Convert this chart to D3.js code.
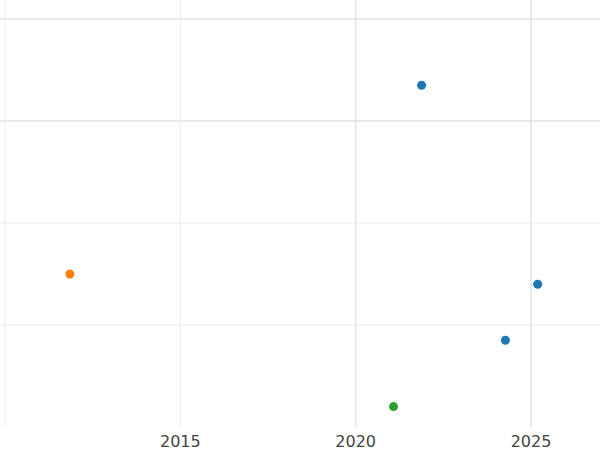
<!DOCTYPE html>
<html><head><meta charset="utf-8">
<script src="https://cdn.jsdelivr.net/npm/d3@7"></script>
<style>body{margin:0;background:#fff}</style>
</head><body><svg id="chart" width="600" height="450"></svg>
<script>
const years = [2021.88, 2011.85, 2025.19, 2024.27, 2021.08];
const values = [3.35, 1.5, 1.4, 0.85, 0.2];
const groups = ["a", "b", "a", "a", "c"];
const xTicks = [2010, 2015, 2020, 2025];
const yTicks = [1, 2, 3, 4];
const colors = {a: "#1f77b4", b: "#ff7f0e", c: "#2ca02c"};

const svg = d3.select("#chart");
const x = d3.scaleLinear().domain([2010, 2025]).range([5, 531]);
const y = d3.scaleLinear().domain([0, 4]).range([427, 19]);

// grid
svg.selectAll(".hg").data(yTicks).enter().append("line")
  .attr("x1", 0).attr("x2", 600)
  .attr("y1", d => y(d)).attr("y2", d => y(d))
  .attr("stroke", d => d >= 3 ? "#e2e2e2" : "#ececec")
  .attr("stroke-width", d => d >= 3 ? 1.5 : 1);
svg.selectAll(".vg").data(xTicks).enter().append("line")
  .attr("y1", 0).attr("y2", 427)
  .attr("x1", d => x(d)).attr("x2", d => x(d))
  .attr("stroke", d => d >= 2020 ? "#e2e2e2" : "#ececec")
  .attr("stroke-width", d => d >= 2020 ? 1.5 : 1);

svg.selectAll(".xl").data(xTicks.slice(1)).enter().append("text")
  .attr("x", d => x(d)).attr("y", 447)
  .attr("text-anchor", "middle")
  .attr("font-family", "DejaVu Sans").attr("font-size", 16)
  .attr("fill", "#444").text(d => d);

svg.selectAll("circle").data(years).enter().append("circle")
  .attr("cx", d => x(d))
  .attr("cy", (d, i) => y(values[i]))
  .attr("r", 4.5)
  .attr("fill", (d, i) => colors[groups[i]]);
</script></body></html>
